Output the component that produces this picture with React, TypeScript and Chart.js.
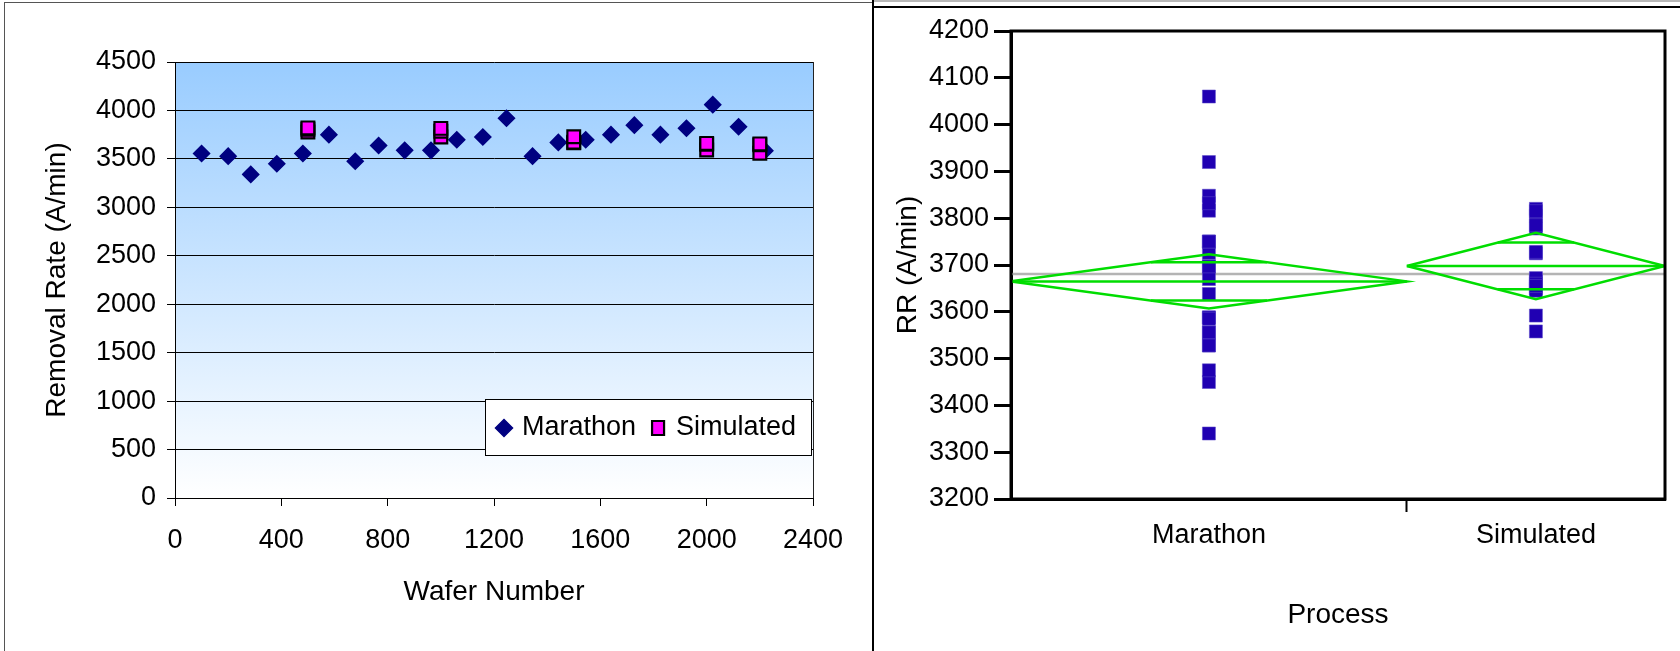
import React, { useEffect, useRef } from 'react';
import { Chart, registerables } from 'chart.js';

Chart.register(...registerables);

const FONT = "'Liberation Sans', Arial, sans-serif";

// ---------- Left chart: removal rate vs wafer number ----------
const waferNumbers = [100, 200, 285, 383, 481, 579, 678, 766, 864, 963, 1060, 1158, 1247, 1345, 1442, 1545, 1640, 1728, 1826, 1924, 2023, 2120, 2219];
const marathonRR = [3556, 3528, 3340, 3450, 3556, 3750, 3475, 3638, 3588, 3588, 3697, 3726, 3920, 3528, 3670, 3697, 3750, 3848, 3750, 3816, 4060, 3832, 3585];

const simWafers = [500, 1000, 1500, 2000, 2200];
const simRunHigh = [3820, 3815, 3728, 3660, 3655];
const simRunMid = [3805, 3785, 3672, 3650, 3645];
const simRunLow = [3778, 3725, 3665, 3592, 3558];

const leftXTicks = [0, 400, 800, 1200, 1600, 2000, 2400];
const leftYTicks = [0, 500, 1000, 1500, 2000, 2500, 3000, 3500, 4000, 4500];

// ---------- Right chart: one-way analysis of RR by Process ----------
const groupNames = ['Marathon', 'Simulated'];
const groupMeans = [3665, 3698];
const groupCI95 = [58, 71];
const groupOverlap = [41, 50];
const grandMean = 3681;
const rightYTicks = [3200, 3300, 3400, 3500, 3600, 3700, 3800, 3900, 4000, 4100, 4200];

const simulatedAll = [...simRunLow, ...simRunMid, ...simRunHigh];
const groupValues = [marathonRR, simulatedAll];

const plainNumber = (v: any) => String(v);

function leftConfig(): any {
  const simPoints: { x: number; y: number }[] = [];
  [simRunLow, simRunMid, simRunHigh].forEach((run) =>
    run.forEach((v, i) => simPoints.push({ x: simWafers[i], y: v }))
  );
  const marathonPoints = waferNumbers.map((w, i) => ({ x: w, y: marathonRR[i] }));

  const bgPlugin = {
    id: 'plotBg',
    beforeDraw(chart: any) {
      const { ctx, chartArea: a } = chart;
      const g = ctx.createLinearGradient(0, a.top, 0, a.bottom);
      g.addColorStop(0, '#99ccff');
      g.addColorStop(1, '#ffffff');
      ctx.save();
      ctx.fillStyle = g;
      ctx.fillRect(a.left, a.top, a.right - a.left, a.bottom - a.top);
      ctx.restore();
    },
    beforeDatasetsDraw(chart: any) {
      const { ctx, chartArea: a } = chart;
      ctx.save();
      ctx.strokeStyle = '#222';
      ctx.lineWidth = 1;
      ctx.beginPath();
      ctx.moveTo(Math.round(a.right) + 0.5, a.top);
      ctx.lineTo(Math.round(a.right) + 0.5, a.bottom);
      ctx.stroke();
      ctx.restore();
    },
    afterDraw(chart: any) {
      const { ctx, chartArea: a } = chart;
      const bx = a.right - 328;
      const by = a.top + 337;
      const bw = 326;
      const bh = 56;
      ctx.save();
      ctx.fillStyle = '#ffffff';
      ctx.fillRect(bx, by, bw, bh);
      ctx.strokeStyle = '#000';
      ctx.lineWidth = 1;
      ctx.strokeRect(Math.round(bx) + 0.5, Math.round(by) + 0.5, bw, bh);
      ctx.font = `27px ${FONT}`;
      ctx.textBaseline = 'middle';
      ctx.fillStyle = '#000';
      const cy = by + bh / 2 + 1;
      let x = bx + 19;
      const items = [chart.data.datasets[1], chart.data.datasets[0]];
      items.forEach((ds: any) => {
        ctx.save();
        ctx.fillStyle = ds.backgroundColor;
        ctx.strokeStyle = ds.borderColor;
        ctx.lineWidth = ds.borderWidth;
        ctx.beginPath();
        if (ds.pointStyle === 'rectRot') {
          const r = 8.5;
          ctx.moveTo(x, cy - r);
          ctx.lineTo(x + r, cy);
          ctx.lineTo(x, cy + r);
          ctx.lineTo(x - r, cy);
          ctx.closePath();
        } else {
          ctx.rect(x - 6, cy - 7, 12, 14);
        }
        ctx.fill();
        ctx.stroke();
        ctx.restore();
        ctx.fillStyle = '#000';
        ctx.textAlign = 'left';
        ctx.fillText(ds.label, x + 18, cy);
        x += 18 + ctx.measureText(ds.label).width + 22;
      });
      ctx.restore();
    },
  };

  return {
    type: 'scatter',
    data: {
      datasets: [
        {
          label: 'Simulated',
          data: simPoints,
          pointStyle: 'rect',
          pointRadius: 9,
          backgroundColor: '#ff00ff',
          borderColor: '#000000',
          borderWidth: 2.2,
        },
        {
          label: 'Marathon',
          data: marathonPoints,
          pointStyle: 'rectRot',
          pointRadius: 8,
          backgroundColor: '#000080',
          borderColor: '#000080',
          borderWidth: 1.5,
        },
      ],
    },
    options: {
      animation: false,
      responsive: false,
      layout: { padding: { top: 62, right: 60, left: 0, bottom: 0 } },
      plugins: { legend: { display: false }, tooltip: { enabled: false } },
      scales: {
        x: {
          type: 'linear',
          min: 0,
          max: 2400,
          afterBuildTicks: (s: any) => {
            s.ticks = leftXTicks.map((v) => ({ value: v }));
          },
          grid: { drawOnChartArea: false, drawTicks: true, tickLength: 8, tickColor: '#000', tickWidth: 1 },
          border: { display: true, color: '#000', width: 1 },
          ticks: { color: '#000', font: { family: FONT, size: 27 }, padding: 18, maxRotation: 0, autoSkip: false, callback: plainNumber },
          title: { display: true, text: 'Wafer Number', color: '#000', font: { family: FONT, size: 28 }, padding: { top: 0, bottom: 42 } },
          afterFit: (s: any) => {
            s.height = 153;
          },
        },
        y: {
          type: 'linear',
          min: 0,
          max: 4500,
          afterBuildTicks: (s: any) => {
            s.ticks = leftYTicks.map((v) => ({ value: v }));
          },
          grid: { color: '#000', lineWidth: 1, drawTicks: true, tickLength: 8, tickColor: '#000' },
          border: { display: true, color: '#000', width: 1 },
          ticks: { color: '#000', font: { family: FONT, size: 27 }, padding: 11, callback: plainNumber },
          title: { display: true, text: 'Removal Rate (A/min)', color: '#000', font: { family: FONT, size: 28 }, padding: { top: 40, bottom: 0 } },
          afterFit: (s: any) => {
            s.width = 175;
          },
        },
      },
    },
    plugins: [bgPlugin],
  };
}

function rightConfig(): any {
  const sizes = groupValues.map((g) => g.length);
  const total = sizes[0] + sizes[1];
  const starts = [0, sizes[0]];
  const centers = sizes.map((n, i) => starts[i] + n / 2);
  const green = '#00dd00';

  const diamondSets: any[] = [];
  groupMeans.forEach((m, i) => {
    const s = starts[i];
    const e = s + sizes[i];
    const c = centers[i];
    const ci = groupCI95[i];
    const ol = groupOverlap[i];
    const half = (sizes[i] / 2) * (1 - ol / ci);
    const lineStyle = {
      showLine: true,
      pointRadius: 0,
      borderColor: green,
      borderWidth: 2.5,
      backgroundColor: green,
      fill: false,
      tension: 0,
    };
    diamondSets.push({
      ...lineStyle,
      label: `${groupNames[i]} diamond`,
      data: [
        { x: s, y: m },
        { x: c, y: m + ci },
        { x: e, y: m },
        { x: c, y: m - ci },
        { x: s, y: m },
      ],
    });
    diamondSets.push({ ...lineStyle, label: `${groupNames[i]} mean`, data: [{ x: s, y: m }, { x: e, y: m }] });
    diamondSets.push({ ...lineStyle, label: `${groupNames[i]} upper`, data: [{ x: c - half, y: m + ol }, { x: c + half, y: m + ol }] });
    diamondSets.push({ ...lineStyle, label: `${groupNames[i]} lower`, data: [{ x: c - half, y: m - ol }, { x: c + half, y: m - ol }] });
  });

  const pointSets = groupValues.map((vals, i) => ({
    label: groupNames[i],
    data: vals.map((v) => ({ x: centers[i], y: v })),
    pointStyle: 'rect',
    pointRadius: 9.2,
    backgroundColor: '#2000b2',
    borderColor: 'rgba(90,70,200,0.9)',
    borderWidth: 0.6,
    showLine: false,
  }));

  const grandSet = {
    label: 'Grand mean',
    data: [{ x: 0, y: grandMean }, { x: total, y: grandMean }],
    showLine: true,
    pointRadius: 0,
    borderColor: '#b4b4b4',
    borderWidth: 2.5,
  };

  const framePlugin = {
    id: 'frame',
    afterDraw(chart: any) {
      const { ctx, chartArea: a } = chart;
      ctx.save();
      ctx.strokeStyle = '#000';
      ctx.lineWidth = 3;
      ctx.strokeRect(a.left, a.top, a.right - a.left, a.bottom - a.top);
      ctx.restore();
    },
  };

  return {
    type: 'scatter',
    data: { datasets: [...diamondSets, ...pointSets, grandSet] },
    options: {
      animation: false,
      responsive: false,
      layout: { padding: { top: 31, right: 15, left: 0, bottom: 0 } },
      plugins: { legend: { display: false }, tooltip: { enabled: false } },
      scales: {
        x: {
          type: 'linear',
          min: 0,
          max: total,
          afterBuildTicks: (s: any) => {
            s.ticks = [{ value: centers[0] }, { value: starts[1] }, { value: centers[1] }];
          },
          ticks: {
            color: '#000',
            font: { family: FONT, size: 27 },
            padding: 7,
            autoSkip: false,
            maxRotation: 0,
            callback: (v: any) => {
              const idx = centers.indexOf(v);
              return idx >= 0 ? groupNames[idx] : '';
            },
          },
          grid: {
            drawOnChartArea: false,
            drawTicks: true,
            tickLength: 13,
            tickWidth: 2,
            tickColor: (ctx: any) => (ctx.tick && ctx.tick.value === starts[1] ? '#000' : 'rgba(0,0,0,0)'),
          },
          border: { display: true, color: '#000', width: 3 },
          title: { display: true, text: 'Process', color: '#000', font: { family: FONT, size: 28 }, padding: { top: 0, bottom: 19 } },
          afterFit: (s: any) => {
            s.height = 152;
          },
        },
        y: {
          type: 'linear',
          min: 3200,
          max: 4200,
          afterBuildTicks: (s: any) => {
            s.ticks = rightYTicks.map((v) => ({ value: v }));
          },
          ticks: { color: '#000', font: { family: FONT, size: 27 }, padding: 5, callback: plainNumber },
          grid: { drawOnChartArea: false, drawTicks: true, tickLength: 17, tickWidth: 3, tickColor: '#000' },
          border: { display: true, color: '#000', width: 3 },
          title: { display: true, text: 'RR (A/min)', color: '#000', font: { family: FONT, size: 28 }, padding: { top: 18, bottom: 0 } },
          afterFit: (s: any) => {
            s.width = 138;
          },
        },
      },
    },
    plugins: [framePlugin],
  };
}

export default function App() {
  const leftRef = useRef<HTMLCanvasElement>(null);
  const rightRef = useRef<HTMLCanvasElement>(null);

  useEffect(() => {
    const left = new Chart(leftRef.current as HTMLCanvasElement, leftConfig());
    const right = new Chart(rightRef.current as HTMLCanvasElement, rightConfig());
    return () => {
      left.destroy();
      right.destroy();
    };
  }, []);

  const abs = (l: number, t: number, w: number, h: number, bg: string): React.CSSProperties => ({
    position: 'absolute',
    left: l,
    top: t,
    width: w,
    height: h,
    background: bg,
  });

  return (
    <div style={{ position: 'absolute', left: 0, top: 0, width: 1680, height: 651, overflow: 'hidden', background: '#fff' }}>
      <canvas ref={leftRef} width={873} height={651} style={{ position: 'absolute', left: 0, top: 0, display: 'block' }} />
      <canvas ref={rightRef} width={807} height={651} style={{ position: 'absolute', left: 873, top: 0, display: 'block' }} />
      <div style={abs(4, 2, 869, 1, '#555')} />
      <div style={abs(4, 2, 1, 649, '#555')} />
      <div style={abs(872, 0, 2, 651, '#000')} />
      <div style={abs(874, 0, 806, 2, '#b8b8b8')} />
      <div style={abs(874, 6, 806, 2, '#000')} />
    </div>
  );
}
